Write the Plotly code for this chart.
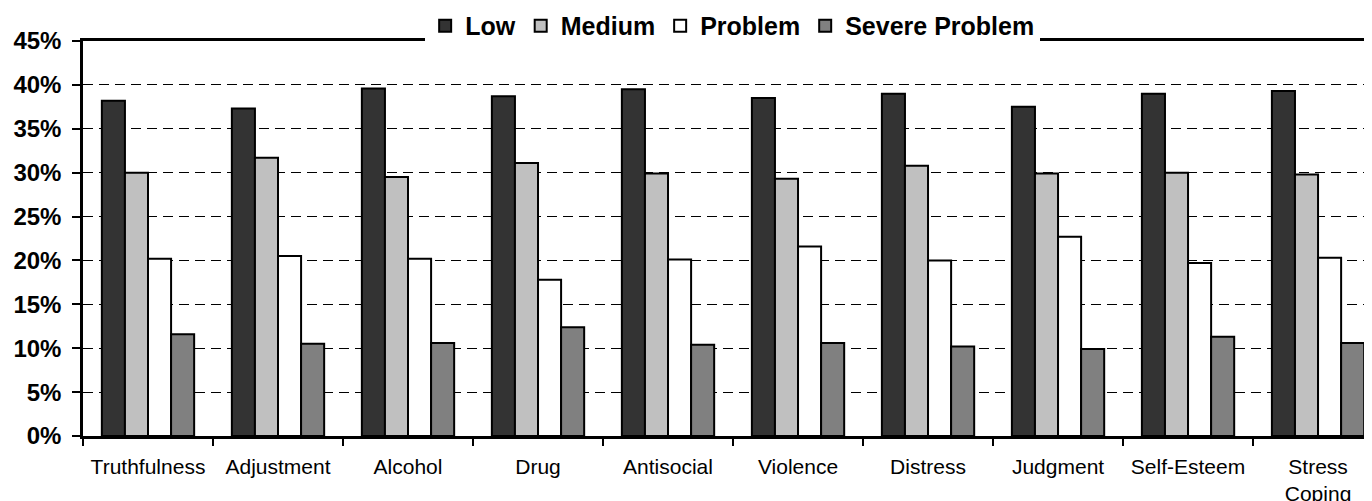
import plotly.graph_objects as go

categories = ["Truthfulness", "Adjustment", "Alcohol", "Drug", "Antisocial",
              "Violence", "Distress", "Judgment", "Self-Esteem", "Stress Coping"]
tick_labels = ["Truthfulness", "Adjustment", "Alcohol", "Drug", "Antisocial",
               "Violence", "Distress", "Judgment", "Self-Esteem", "Stress<br>Coping"]

low = [38.2, 37.3, 39.6, 38.7, 39.5, 38.5, 39.0, 37.5, 39.0, 39.3]
medium = [30.0, 31.7, 29.5, 31.1, 29.9, 29.3, 30.8, 29.9, 30.0, 29.8]
problem = [20.2, 20.5, 20.2, 17.8, 20.1, 21.6, 20.0, 22.7, 19.7, 20.3]
severe = [11.6, 10.5, 10.6, 12.4, 10.4, 10.6, 10.2, 9.9, 11.3, 10.6]

series_names = ["Low", "Medium", "Problem", "Severe Problem"]
series_values = [low, medium, problem, severe]
series_colors = ["#333333", "#C0C0C0", "#FFFFFF", "#808080"]

FONT = "Liberation Sans, Arial, sans-serif"

fig = go.Figure()
for name, vals, col in zip(series_names, series_values, series_colors):
    fig.add_trace(go.Bar(
        x=categories, y=vals, name=name,
        marker=dict(color=col, line=dict(color="#000000", width=2)),
    ))

# page body has an 8px margin: size the figure so it ends at the window edge
fig.update_layout(
    width=1364, height=493,
    margin=dict(l=75, r=0, t=33, b=65, pad=0, autoexpand=False),
    paper_bgcolor="white", plot_bgcolor="white",
    barmode="group", bargap=0.29, bargroupgap=0,
    font=dict(family=FONT, color="#000000"),
    showlegend=True,
    legend=dict(
        orientation="h", x=0.504, xanchor="center", y=1.038, yanchor="middle",
        bgcolor="white", borderwidth=0,
        font=dict(size=25, family=FONT, weight="bold"),
        traceorder="normal", itemwidth=30,
    ),
)

fig.update_xaxes(
    type="category", range=[-0.5, 9.415],
    tickmode="array", tickvals=categories, ticktext=tick_labels,
    tickson="boundaries", ticks="outside", ticklen=7, tickwidth=2, tickcolor="#000",
    showline=True, linecolor="#000", linewidth=2.5, mirror=True,
    showgrid=False, ticklabelstandoff=10,
    tickfont=dict(size=21, family=FONT),
)

fig.update_yaxes(
    range=[0, 45], dtick=5, tick0=0, ticksuffix="%",
    ticks="outside", ticklen=8, tickwidth=2, tickcolor="#000",
    showline=True, linecolor="#000", linewidth=2.5,
    showgrid=True, gridcolor="#000", gridwidth=1, griddash="10px,6px",
    zeroline=False, ticklabelstandoff=6,
    tickfont=dict(size=24, family=FONT, weight="bold"),
)

fig.write_html("out.html")
